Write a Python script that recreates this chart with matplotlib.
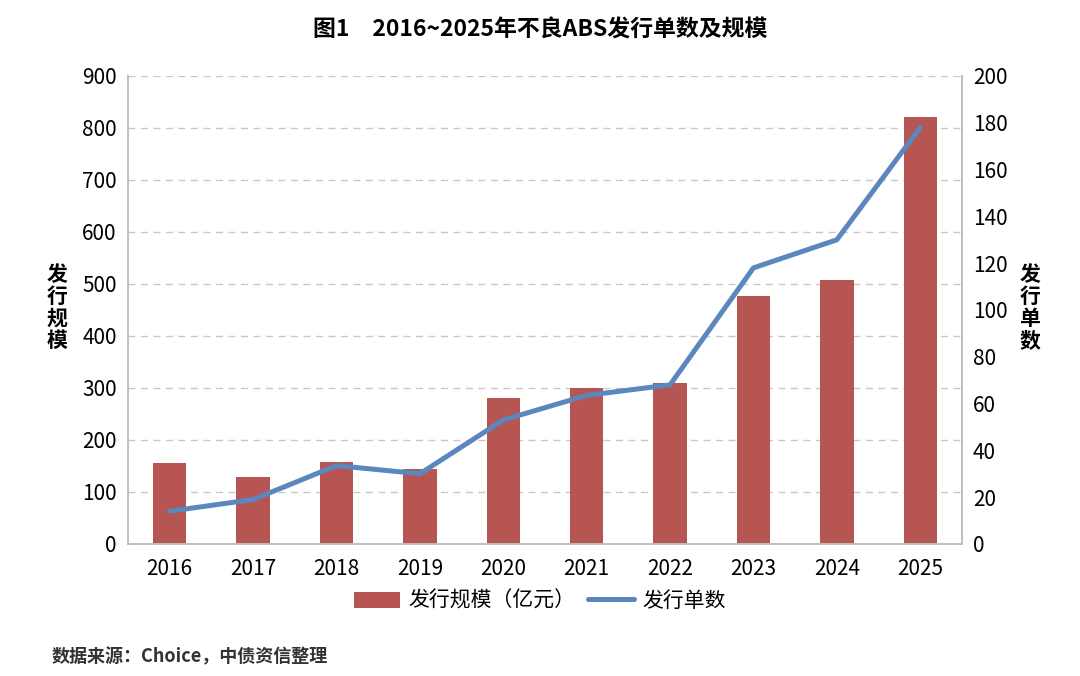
import matplotlib
matplotlib.use('Agg')
import matplotlib.pyplot as plt
import numpy as np

plt.rcParams['font.family'] = ['Noto Sans CJK SC', 'DejaVu Sans']

years = ['2016', '2017', '2018', '2019', '2020', '2021', '2022', '2023', '2024', '2025']
scale = [156, 129, 158, 144, 281, 300, 310, 476, 508, 821]
count = [14, 19, 33.5, 30, 53, 63.5, 68, 118, 130, 178]

bar_color = '#B65552'
line_color = '#5A87BD'
spine_color = '#BFBFBF'

fig = plt.figure(figsize=(10.8, 6.76), dpi=100)
ax = fig.add_axes([0.1185, 0.1953, 0.7722, 0.6923])
ax2 = ax.twinx()

x = np.arange(len(years))
bars = ax.bar(x, scale, width=0.4, color=bar_color, label='发行规模（亿元）', zorder=2)
line, = ax2.plot(x, count, color=line_color, lw=3.6, label='发行单数', solid_capstyle='round')

ax.set_xlim(-0.5, len(years) - 0.5)
ax.set_ylim(0, 900)
ax.set_yticks(range(0, 901, 100))
ax2.set_ylim(0, 200)
ax2.set_yticks(range(0, 201, 20))
ax.set_xticks(x)
ax.set_xticklabels(years)

ax.yaxis.grid(True, linestyle=(0, (5, 4)), color='#C8C8C8', lw=1.0, zorder=0)
ax.set_axisbelow(True)

for a in (ax, ax2):
    a.tick_params(length=0, labelsize=15, pad=8)
    a.spines['top'].set_visible(False)
    for s in ('left', 'right', 'bottom'):
        a.spines[s].set_color(spine_color)
        a.spines[s].set_linewidth(1.2)
ax.tick_params(axis='x', pad=10)

fig.text(0.053, 0.545, '发\n行\n规\n模', fontsize=15, fontweight='bold',
         ha='center', va='center', linespacing=1.05)
fig.text(0.954, 0.545, '发\n行\n单\n数', fontsize=15, fontweight='bold',
         ha='center', va='center', linespacing=1.05)

fig.text(0.5, 0.956, '图1　2016~2025年不良ABS发行单数及规模', fontsize=16.5,
         fontweight='bold', ha='center', va='center')

fig.legend(handles=[bars, line], loc='center', bbox_to_anchor=(0.5, 0.111), ncol=2,
           frameon=False, fontsize=15, handlelength=2.2, handleheight=0.8,
           columnspacing=0.6, handletextpad=0.4)

fig.text(0.048, 0.028, '数据来源：Choice，中债资信整理', fontsize=13, fontweight='bold',
         color='#333333', ha='left', va='center')

fig.savefig('out.png', dpi=100)
